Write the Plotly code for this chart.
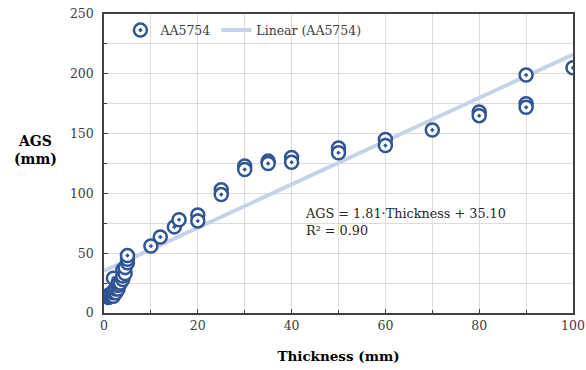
import plotly.graph_objects as go

# Data
thickness = [1, 1, 1, 1.5, 1.5, 2, 2, 2, 2, 2.5, 2.5, 3, 3, 3, 3.5, 4, 4, 4, 4.5, 4.5, 5, 5, 5,
             10, 12, 15, 16, 20, 20, 25, 25, 30, 30, 35, 35, 40, 40, 50, 50, 60, 60, 70,
             80, 80, 90, 90, 90, 100]
ags = [13, 14, 15, 15, 16, 14, 17, 18, 29, 17, 20, 20, 23, 25, 25, 28, 31, 36, 33, 38, 42, 45, 48,
       56, 63.5, 72, 78, 82, 77, 103, 99, 123, 120, 127, 125, 130, 126, 138, 134, 145, 140, 153,
       168, 165, 175, 172, 199, 205]

slope = 1.81
intercept = 35.10
r2 = 0.90
trend_x = [0, 100]

font_family = "DejaVu Serif"
text_col = "#404040"
blue = "#2f5597"

fig = go.Figure()
fig.add_trace(go.Scatter(
    x=trend_x, y=[slope * v + intercept for v in trend_x], mode="lines",
    name="Linear (AA5754)", line=dict(color="#c5d3e8", width=4)))
fig.add_trace(go.Scatter(
    x=thickness, y=ags, mode="markers", name="AA5754",
    marker=dict(symbol="circle-dot", size=13, color="white",
                line=dict(color=blue, width=2.5))))

fig.update_layout(
    width=586, height=370,
    margin=dict(l=104, r=13, t=14, b=57, autoexpand=False),
    paper_bgcolor="white", plot_bgcolor="white",
    font=dict(family=font_family, size=12.5, color=text_col),
    showlegend=True,
    legend=dict(orientation="h", x=0.035, y=0.995, xanchor="left", yanchor="top",
                bgcolor="rgba(0,0,0,0)", traceorder="reversed", itemwidth=30,
                font=dict(size=12.5, color=text_col)),
)
fig.update_xaxes(
    range=[0, 100], dtick=20, tick0=0, automargin=False,
    showline=True, linecolor="#404040", linewidth=1.5, mirror=True,
    ticks="inside", ticklen=4, tickcolor="#404040",
    showgrid=True, gridcolor="#dcdcdc", gridwidth=1,
    minor=dict(dtick=10, showgrid=True, gridcolor="#dcdcdc", ticks="inside", ticklen=3, tickcolor="#404040"),
    zeroline=False,
    title=dict(text="<b>Thickness (mm)</b>", font=dict(size=13.5, color="black"), standoff=20),
)
fig.update_yaxes(
    range=[0, 250], dtick=50, tick0=0, automargin=False,
    showline=True, linecolor="#404040", linewidth=1.5, mirror=True,
    ticks="inside", ticklen=4, tickcolor="#404040", ticklabelstandoff=6,
    showgrid=True, gridcolor="#dcdcdc", gridwidth=1,
    minor=dict(dtick=25, showgrid=True, gridcolor="#dcdcdc", ticks="inside", ticklen=3, tickcolor="#404040"),
    zeroline=False,
)
fig.add_annotation(xref="paper", yref="paper", x=-0.145, y=0.545, xanchor="center", yanchor="middle",
                   text="<b>AGS<br>(mm)</b>", showarrow=False, align="center",
                   font=dict(size=14, color="black"))
fig.add_annotation(xref="x", yref="y", x=42.5, y=76, xanchor="left", yanchor="middle",
                   text=f"AGS = {slope:.2f}·Thickness + {intercept:.2f}<br>R² = {r2:.2f}",
                   showarrow=False, align="left", font=dict(size=12.8, color="#262626"))

fig.write_html("out.html")
